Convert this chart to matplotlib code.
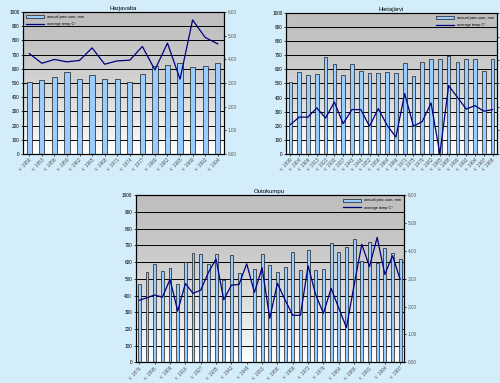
import matplotlib
matplotlib.use('Agg')
import matplotlib.pyplot as plt
import numpy as np

plt.rcParams['font.family'] = ['Liberation Sans', 'DejaVu Sans']

# Harjavalta
harja_years = ['v. 1950', 'v. 1953', 'v. 1956', 'v. 1959', 'v. 1962', 'v. 1965',
               'v. 1968', 'v. 1971', 'v. 1974', 'v. 1977', 'v. 1980', 'v. 1982',
               'v. 1985', 'v. 1989', 'v. 1992', 'v. 1994']
harja_prec = [506, 522, 543, 574, 525, 555, 525, 527, 506, 562, 616, 623, 639, 609, 616, 637]
harja_temp = [4.24, 3.83, 3.99, 3.89, 3.95, 4.48, 3.79, 3.93, 3.96, 4.54, 3.55, 4.68,
              3.16, 5.66, 4.92, 4.65]

# Hietajärvi
hieta_years = ['v. 1899', 'v. 1904', 'v. 1909', 'v. 1913', 'v. 1922', 'v. 1930',
               'v. 1937', 'v. 1943', 'v. 1948', 'v. 1952', 'v. 1956', 'v. 1964',
               'v. 1966', 'v. 1971', 'v. 1975', 'v. 1979', 'v. 1982', 'v. 1985',
               'v. 1988', 'v. 1990', 'v. 1992', 'v. 1994', 'v. 1997', 'v. 1998']
hieta_prec = [511, 579, 558, 567, 688, 638, 560, 636, 591, 577, 577, 582, 572, 645,
              551, 650, 671, 671, 697, 650, 676, 676, 591, 674]
hieta_temp = [1.25, 1.57, 1.57, 1.96, 1.53, 2.21, 1.29, 1.89, 1.89, 1.18, 1.93, 1.22,
              0.72, 2.57, 1.18, 1.38, 2.17, 0.0, 2.91, 2.41, 1.91, 2.06, 1.82, 1.89]

# Outokumpu (one year without precipitation value)
outo_years = ['v. 1876', 'v. 1885', 'v. 1895', 'v. 1902', 'v. 1909', 'v. 1912',
              'v. 1916', 'v. 1920', 'v. 1927', 'v. 1930', 'v. 1935', 'v. 1938',
              'v. 1942', 'v. 1946', 'v. 1949', 'v. 1951', 'v. 1953', 'v. 1955',
              'v. 1958', 'v. 1962', 'v. 1966', 'v. 1969', 'v. 1972', 'v. 1974',
              'v. 1976', 'v. 1980', 'v. 1984', 'v. 1986', 'v. 1988', 'v. 1990',
              'v. 1991', 'v. 1993', 'v. 1994', 'v. 1996', 'v. 1997']
outo_prec = [467, 543, 589, 545, 563, 467, 603, 653, 649, 587, 649, 491, 641, 537,
             np.nan, 557, 647, 584, 539, 569, 659, 553, 672, 555, 556, 713, 660,
             690, 737, 607, 720, 597, 683, 652, 617]
outo_temp = [2.23, 2.32, 2.42, 2.34, 2.98, 1.84, 2.83, 2.48, 2.59, 3.23, 3.71, 2.25,
             2.77, 2.80, 3.54, 2.51, 3.40, 1.58, 2.84, 2.24, 1.69, 1.69, 3.47, 2.42,
             1.76, 2.66, 1.94, 1.25, 2.78, 4.24, 3.44, 4.49, 3.16, 3.83, 2.98]

BG = '#d4edfa'
BAR = '#99ccff'
LINE = '#000080'
FS = 3.4


def draw(rect, title, years, prec, temp, legend_loc, label_step=1, width=0.42):
    ax = fig.add_axes(rect)
    n = len(years)
    x = np.arange(n)

    # grey (top) to white (bottom) backdrop like the old spreadsheet charts
    grad = np.linspace(0, 1, 256).reshape(-1, 1) ** 1.6
    cmap = matplotlib.colors.LinearSegmentedColormap.from_list('bg', ['#bfbfbf', '#ffffff'])
    ax.imshow(grad, cmap=cmap, aspect='auto', extent=[0, 1, 0, 1], origin='upper',
              transform=ax.transAxes, zorder=0)

    bars = ax.bar(x, prec, width=width, color=BAR, edgecolor='#1a1a1a',
                  linewidth=0.5, zorder=2)
    ax.set_xlim(-0.5, n - 0.5)
    ax.set_ylim(0, 1000)
    ax.set_yticks(np.arange(0, 1001, 100))
    ax.yaxis.grid(True, color='black', linewidth=0.7, zorder=1)
    ax.set_axisbelow(True)
    ax.set_xticks(x[::label_step])
    ax.set_xticklabels(years[::label_step], rotation=45, ha='right',
                       rotation_mode='anchor', color='#555555')
    ax.tick_params(labelsize=FS, length=1.5, width=0.5, pad=1)
    for s in ax.spines.values():
        s.set_linewidth(0.8)

    ax2 = ax.twinx()
    ln, = ax2.plot(x, temp, color=LINE, linewidth=0.9, zorder=3)
    ax2.set_ylim(0, 6)
    ax2.set_yticks(np.arange(0, 7, 1))
    ax2.set_yticklabels(['%.2f' % v for v in np.arange(0, 7, 1)], color='#555555')
    ax2.tick_params(labelsize=FS, length=1.5, width=0.5, pad=1)
    ax2.spines['right'].set_linewidth(0.8)

    ax.set_title(title, fontsize=4.3, pad=1.5)
    ax2.legend([bars, ln], ['annual prec.sum, mm', 'average temp.C\u00b0'],
               loc=legend_loc, fontsize=2.8, frameon=False, handlelength=4.5,
               handleheight=0.8, borderaxespad=0.4, labelspacing=0.8)
    return ax, ax2


fig = plt.figure(figsize=(5.0, 3.83), dpi=100, facecolor=BG)

draw([0.046, 0.598, 0.402, 0.371], 'Harjavalta', harja_years, harja_prec, harja_temp,
     'upper left')
draw([0.572, 0.598, 0.422, 0.368], 'Hietajärvi', hieta_years, hieta_prec, hieta_temp,
     'upper right')
draw([0.271, 0.054, 0.537, 0.436], 'Outokumpu', outo_years, outo_prec, outo_temp,
     'upper right', label_step=2, width=0.38)

fig.savefig('out.png', dpi=100, facecolor=BG)
